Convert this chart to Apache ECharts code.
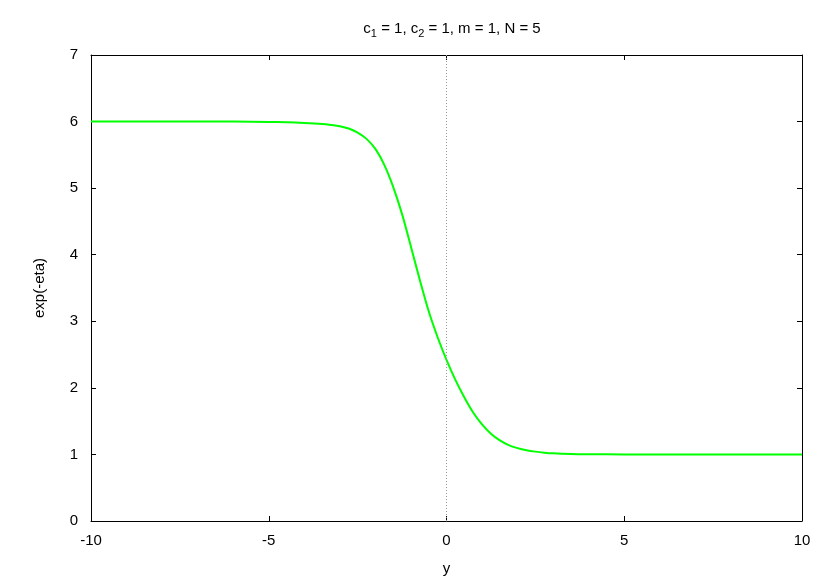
<!DOCTYPE html>
<html>
<head>
<meta charset="utf-8">
<script src="https://cdn.jsdelivr.net/npm/echarts@6/dist/echarts.min.js"></script>
<style>
  html, body { margin: 0; padding: 0; background: #fff; }
  #chart { width: 830px; height: 581px; }
</style>
</head>
<body>
<div id="chart"></div>
<script>
// values
const xs = [-10, -8, -6, -5, -4.5, -4, -3.5, -3.25, -3, -2.75, -2.5, -2.25, -2, -1.75, -1.5, -1.25, -1, -0.75, -0.5, -0.25, 0,
  0.25, 0.5, 0.75, 1, 1.25, 1.5, 1.75, 2, 2.25, 2.5, 2.75, 3, 3.5, 4, 5, 6, 8, 10]
const ys = [6.0, 6.0, 6.0, 5.995, 5.99, 5.98, 5.965, 5.95, 5.93, 5.895, 5.835, 5.74, 5.59, 5.35, 5.02, 4.61, 4.12, 3.62, 3.15, 2.76, 2.42,
  2.12, 1.86, 1.63, 1.45, 1.31, 1.21, 1.14, 1.095, 1.063, 1.042, 1.027, 1.017, 1.007, 1.003, 1.0, 1.0, 1.0, 1.0]

const font = 'Liberation Sans, Arial, sans-serif'
const data = xs.map((x, i) => [x, ys[i]])

const chart = echarts.init(document.getElementById('chart'))

const lineBlack = { show: true, onZero: false, lineStyle: { color: '#000', width: 1 } }
const tickIn = { show: true, inside: true, length: 5, lineStyle: { color: '#000', width: 1 } }

chart.setOption({
  animation: false,
  backgroundColor: '#fff',
  title: {
    text: '{t|c}{s|1}{t| = 1, c}{s|2}{t| = 1, m = 1, N = 5}',
    left: 447,
    textAlign: 'center',
    top: 13,
    textStyle: {
      fontWeight: 'normal',
      rich: {
        t: { fontFamily: font, fontSize: 15, color: '#000', fontWeight: 'normal' },
        s: { fontFamily: font, fontSize: 11, color: '#000', fontWeight: 'normal', padding: [10, 0, 0, 0] }
      }
    }
  },
  grid: {
    left: 91,
    right: 28,
    top: 55,
    bottom: 60
  },
  xAxis: [
    {
      type: 'value',
      min: -10,
      max: 10,
      interval: 5,
      name: 'y',
      nameLocation: 'middle',
      nameGap: 40,
      nameTextStyle: { fontFamily: font, fontSize: 15, color: '#000' },
      axisLine: lineBlack,
      axisTick: tickIn,
      axisLabel: { fontFamily: font, fontSize: 15, color: '#000', margin: 12 },
      splitLine: { show: false }
    },
    {
      type: 'value',
      position: 'top',
      min: -10,
      max: 10,
      interval: 5,
      axisLine: lineBlack,
      axisTick: tickIn,
      axisLabel: { show: false },
      splitLine: { show: false }
    }
  ],
  yAxis: [
    {
      type: 'value',
      min: 0,
      max: 7,
      interval: 1,
      name: 'exp(-eta)',
      nameLocation: 'middle',
      nameGap: 44,
      nameRotate: 90,
      nameTextStyle: { fontFamily: font, fontSize: 15, color: '#000' },
      axisLine: lineBlack,
      axisTick: tickIn,
      axisLabel: { fontFamily: font, fontSize: 15, color: '#000', margin: 13 },
      splitLine: { show: false }
    },
    {
      type: 'value',
      position: 'right',
      min: 0,
      max: 7,
      interval: 1,
      axisLine: lineBlack,
      axisTick: tickIn,
      axisLabel: { show: false },
      splitLine: { show: false }
    }
  ],
  series: [
    {
      type: 'line',
      data: data,
      showSymbol: false,
      smooth: 0.3,
      lineStyle: { color: '#00ff00', width: 2 },
      markLine: {
        silent: true,
        symbol: ['none', 'none'],
        label: { show: false },
        lineStyle: { color: '#999', type: [1, 2], width: 1 },
        data: [{ xAxis: 0 }]
      },
      z: 3
    }
  ]
})
</script>
</body>
</html>
